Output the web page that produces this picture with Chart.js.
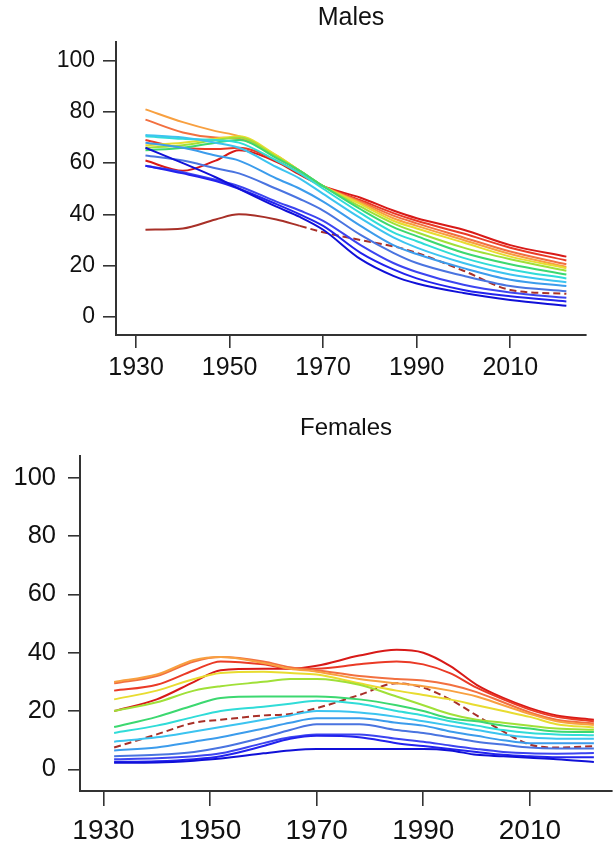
<!DOCTYPE html>
<html>
<head>
<meta charset="utf-8">
<script src="https://cdn.jsdelivr.net/npm/chart.js@4.4.1/dist/chart.umd.min.js"></script>
<style>
    body { margin: 0; background: #fff; }
    .panel { position: absolute; left: 0; width: 613px; }
</style>
</head>
<body>
<div class="panel" style="top:0; height:380px;"><canvas id="malesChart"></canvas></div>
<div class="panel" style="top:410px; height:438px;"><canvas id="femalesChart"></canvas></div>
<script>
// Tick labels
const yTicks = [0, 20, 40, 60, 80, 100];
const xTicks = [1930, 1950, 1970, 1990, 2010];

// Males: x positions of the readings
const maleYears = [1932, 1940, 1947, 1952, 1960, 1965, 1970, 1978, 1985, 1990, 2000, 2010, 2022];
// one row per line, blue (0) -> red (13)
const maleSeries = [
    [66, 60, 54.5, 50, 43, 39, 34, 22.5, 16, 13, 9.3, 6.6, 4.3],
    [59, 56, 53, 50, 44, 40, 35.5, 25, 18.5, 15, 10.5, 8, 6],
    [59, 56.5, 53.5, 51, 45, 41.5, 37.5, 28, 21, 17.5, 12.5, 9.5, 7.4],
    [63, 61, 58, 56, 50, 46, 41.5, 32, 25, 21, 16, 12, 10],
    [68, 66, 63, 61, 54, 50, 45, 35.5, 28, 24.5, 19, 14.5, 12],
    [71, 70, 68, 66, 58.5, 54, 48, 38.5, 31, 27, 21, 16.5, 13.5],
    [70.5, 69.5, 69, 68, 61, 56, 50, 40.5, 33, 29.5, 23, 18.5, 15],
    [65, 66, 68, 69, 62, 57, 51, 42, 35, 31.5, 25, 20.5, 16.5],
    [66, 67, 69, 70, 62.5, 57, 51, 43, 36.5, 33, 27, 22.5, 18],
    [67, 68, 69.5, 70.5, 63, 57, 51, 44, 37.5, 34.5, 29, 23.5, 19],
    [81, 76, 72.5, 70.5, 63, 57, 51, 44.5, 38.5, 35.5, 30, 24.5, 19.5],
    [77, 72, 70, 69.5, 62.5, 57, 51, 45, 39.5, 36.5, 31, 25.5, 20.5],
    [69, 66, 65.5, 66, 61, 56, 51, 45.5, 40.5, 37.5, 32.5, 27, 22],
    [61, 57, 61, 65, 60.5, 55.5, 51, 46.5, 41.5, 38.5, 34, 28, 23.5]
];
const maleDashed = [34, 34.5, 38, 40, 38, 35.5, 33, 30, 27.5, 25, 18, 10.5, 9];

// Females
const femaleYears = [1932, 1940, 1947, 1952, 1960, 1965, 1970, 1978, 1985, 1990, 1995, 2000, 2005, 2010, 2015, 2022];
const femaleSeries = [
    [2.3, 2.4, 3, 3.7, 5.5, 6.5, 7, 7, 7, 7, 6.5, 5, 4.5, 4, 3.5, 2.5],
    [2.6, 2.8, 3.5, 4.5, 8, 10.5, 11.5, 11, 9, 8, 7, 6, 5, 4.5, 4.2, 4.2],
    [3.5, 3.8, 4.5, 5.5, 9, 11, 12, 12, 10.5, 9.5, 8.2, 7, 6, 5.5, 5.4, 5.6],
    [4.5, 5, 6, 7.5, 11, 13.5, 15.5, 15.5, 13.5, 12.5, 11, 9.5, 8.5, 7.5, 7.2, 7.2],
    [6.5, 7.5, 9.5, 11, 14, 16, 17.5, 17.5, 16, 15, 13, 11.5, 10, 9, 9, 9],
    [9.5, 11, 13, 14.5, 17, 18.5, 20, 19.5, 18, 16.5, 15, 13.5, 12, 11, 10.5, 10.5],
    [12.5, 15, 18, 20, 21.5, 22.5, 23.5, 22.5, 20, 18.5, 16.5, 15, 13.5, 12.5, 12, 11.7],
    [14.5, 18, 22, 24.5, 25, 25, 25, 24, 22, 20, 17.5, 16.5, 15, 14, 13, 12.8],
    [20, 23, 27, 28.5, 30, 31, 31, 29, 25, 22, 19, 17, 16, 15, 14, 13.6],
    [24, 27, 31, 33, 33.5, 33, 32.5, 29.5, 27, 25.5, 24, 22, 20, 18, 15.5, 14.4],
    [30, 32.5, 37.5, 38.5, 36.5, 34.5, 33.5, 31, 29.5, 28.5, 27, 25, 22, 19, 16.5, 15.2],
    [29.5, 32, 37, 38.5, 37, 35, 34, 32, 31, 30.5, 29, 26.5, 23, 19.5, 17, 15.8],
    [27, 29, 34, 37, 36, 34.5, 34.5, 36, 37, 36, 33, 28, 24, 20.5, 18, 16.5],
    [20, 24, 30, 34, 34.5, 34.5, 35.5, 39, 41, 40, 35.5, 29, 24.5, 21, 18.5, 17]
];
const femaleDashed = [7.5, 12, 16, 17, 18.5, 19, 21, 25.5, 29.5, 28, 24, 18.5, 13, 8.5, 7.5, 8];

// Rainbow palette, blue -> red
const lineColors = [
    '#1010d8', '#2222ee', '#3c44f0', '#4a74e0', '#3c9cec', '#3cc4f0', '#30dcd8',
    '#3cd870', '#a0e038', '#e8dc30', '#f8a040', '#f27040', '#ea3a26', '#d81a18'
];
const dashedColor = '#a83028';

const FONT = "'Liberation Sans', Arial, sans-serif";
const INK = '#111';

function makePanel(id, title, years, series, dashed, dashFrom, g) {
    const datasets = series.map((vals, i) => ({
        data: vals.map((v, k) => ({ x: years[k], y: v })),
        borderColor: lineColors[i],
        borderWidth: 2
    }));
    datasets.push({
        data: dashed.map((v, k) => ({ x: years[k], y: v })),
        borderColor: dashedColor,
        borderWidth: 2,
        segment: {
            borderDash: ctx => ctx.p0.parsed.x >= dashFrom ? [7, 4] : undefined
        }
    });

    return new Chart(document.getElementById(id), {
        type: 'line',
        data: { datasets: datasets },
        options: {
            responsive: true,
            maintainAspectRatio: false,
            animation: false,
            layout: { padding: { left: 0, top: 0, right: g.padRight, bottom: 0 } },
            elements: {
                point: { radius: 0 },
                line: { cubicInterpolationMode: 'monotone', fill: false }
            },
            plugins: {
                legend: { display: false },
                tooltip: { enabled: false },
                title: {
                    display: true,
                    text: title,
                    fullSize: false,
                    color: INK,
                    font: { family: FONT, size: g.titleSize, weight: 'normal' },
                    padding: g.titlePad
                }
            },
            scales: {
                x: {
                    type: 'linear',
                    min: g.xMin,
                    max: g.xMax,
                    afterBuildTicks: s => { s.ticks = xTicks.map(v => ({ value: v })); },
                    afterFit: s => { s.height = g.xAxisHeight; },
                    ticks: {
                        color: INK,
                        padding: g.xPad,
                        maxRotation: 0,
                        font: { family: FONT, size: g.xFont },
                        callback: v => String(v)
                    },
                    grid: { drawOnChartArea: false, tickLength: g.xTickLen, color: '#333', lineWidth: 1.6 },
                    border: { color: '#333', width: 2 }
                },
                y: {
                    min: g.yMin,
                    max: g.yMax,
                    afterBuildTicks: s => { s.ticks = yTicks.map(v => ({ value: v })); },
                    afterFit: s => { s.width = g.yAxisWidth; },
                    ticks: {
                        color: INK,
                        padding: g.yPad,
                        font: { family: FONT, size: g.yFont },
                        callback: v => String(v)
                    },
                    grid: { drawOnChartArea: false, tickLength: g.yTickLen, color: '#333', lineWidth: 1.6 },
                    border: { color: '#333', width: 2 }
                }
            }
        }
    });
}

makePanel('malesChart', 'Males', maleYears, maleSeries, maleDashed, 1965, {
    padRight: 27, titleSize: 25, titlePad: { top: 3, bottom: 9 },
    xMin: 1925.7, xMax: 2026.2, yMin: -7.1, yMax: 107.3,
    xAxisHeight: 45, yAxisWidth: 116,
    xFont: 25, yFont: 23, xTickLen: 13, yTickLen: 13, xPad: 5, yPad: 8
});

makePanel('femalesChart', 'Females', femaleYears, femaleSeries, femaleDashed, 1932, {
    padRight: 1, titleSize: 24, titlePad: { top: 3.6, bottom: 13.6 },
    xMin: 1925.6, xMax: 2025.4, yMin: -7.4, yMax: 107.4,
    xAxisHeight: 57, yAxisWidth: 80,
    xFont: 28, yFont: 25.5, xTickLen: 15, yTickLen: 12, xPad: 8, yPad: 12
});
</script>
</body>
</html>
